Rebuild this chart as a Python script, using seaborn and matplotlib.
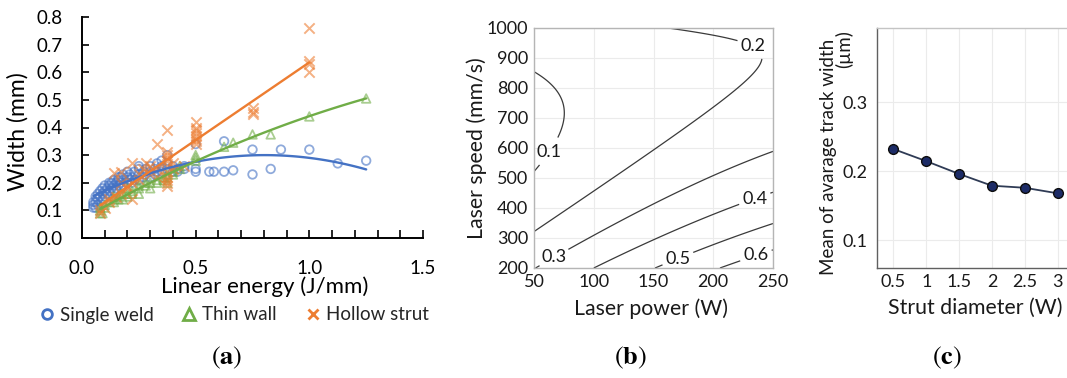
import numpy as np
import pandas as pd
import matplotlib
matplotlib.use("Agg")
import matplotlib.pyplot as plt
from matplotlib.lines import Line2D
from matplotlib.ticker import MultipleLocator, FixedLocator
import seaborn as sns

# ---------------- (a) track width vs linear energy ----------------
sw_energy = [0.05, 0.05, 0.05, 0.06, 0.06, 0.06, 0.07, 0.07, 0.07, 0.08, 0.08,
             0.09, 0.09, 0.09, 0.10, 0.10, 0.10, 0.11, 0.11, 0.12, 0.12, 0.12,
             0.13, 0.13, 0.14, 0.14, 0.14, 0.15, 0.15, 0.16, 0.16, 0.16,
             0.17, 0.17, 0.18, 0.18, 0.18, 0.20, 0.20, 0.20, 0.21, 0.21,
             0.22, 0.22, 0.23, 0.23, 0.25, 0.25, 0.25, 0.25, 0.27, 0.27,
             0.28, 0.28, 0.30, 0.30, 0.30, 0.32, 0.32, 0.33, 0.33,
             0.35, 0.35, 0.35, 0.375, 0.375, 0.375, 0.40, 0.40, 0.42, 0.42,
             0.45, 0.45, 0.50, 0.50, 0.50, 0.56, 0.58, 0.625, 0.625, 0.665,
             0.75, 0.75, 0.83, 0.875, 1.00, 1.125, 1.25]
sw_width = [0.11, 0.12, 0.13, 0.15, 0.13, 0.11, 0.16, 0.14, 0.12, 0.15, 0.17,
            0.16, 0.14, 0.18, 0.17, 0.19, 0.15, 0.18, 0.16, 0.19, 0.17, 0.20,
            0.18, 0.20, 0.19, 0.21, 0.17, 0.20, 0.18, 0.21, 0.19, 0.22,
            0.20, 0.22, 0.21, 0.19, 0.23, 0.22, 0.20, 0.24, 0.21, 0.23,
            0.22, 0.20, 0.24, 0.21, 0.25, 0.23, 0.21, 0.26, 0.22, 0.24,
            0.23, 0.25, 0.24, 0.26, 0.22, 0.25, 0.23, 0.27, 0.24,
            0.26, 0.24, 0.28, 0.30, 0.27, 0.25, 0.24, 0.26, 0.25, 0.24,
            0.26, 0.25, 0.34, 0.25, 0.24, 0.24, 0.24, 0.24, 0.35, 0.245,
            0.32, 0.23, 0.25, 0.32, 0.32, 0.27, 0.28]

tw_energy = [0.08, 0.08, 0.08, 0.09, 0.10, 0.10, 0.12, 0.14, 0.14, 0.14,
             0.16, 0.16, 0.17, 0.18, 0.18, 0.20, 0.20, 0.20, 0.22, 0.22,
             0.25, 0.25, 0.25, 0.28, 0.28, 0.30, 0.30, 0.33, 0.33, 0.36, 0.36,
             0.375, 0.375, 0.375, 0.40, 0.40, 0.43, 0.43, 0.50, 0.50, 0.50,
             0.625, 0.665, 0.75, 0.83, 1.00, 1.25]
tw_width = [0.09, 0.10, 0.11, 0.09, 0.12, 0.11, 0.13, 0.14, 0.15, 0.13,
            0.14, 0.15, 0.16, 0.14, 0.16, 0.16, 0.15, 0.18, 0.17, 0.16,
            0.16, 0.18, 0.19, 0.19, 0.20, 0.18, 0.20, 0.21, 0.20, 0.21, 0.22,
            0.22, 0.23, 0.20, 0.24, 0.23, 0.25, 0.26, 0.29, 0.28, 0.30,
            0.33, 0.345, 0.375, 0.375, 0.44, 0.505]

hs_energy = [0.08, 0.08, 0.10, 0.12, 0.12, 0.14, 0.15, 0.17, 0.17, 0.17,
             0.20, 0.20, 0.22, 0.22, 0.22, 0.25, 0.25, 0.27, 0.28, 0.30, 0.30,
             0.33, 0.33, 0.33, 0.375, 0.375, 0.375, 0.375, 0.375, 0.375,
             0.375, 0.375, 0.375, 0.375, 0.375, 0.40, 0.40, 0.45,
             0.50, 0.50, 0.50, 0.50, 0.50, 0.50, 0.50, 0.50,
             0.75, 0.75, 0.75, 1.00, 1.00, 1.00, 1.00]
hs_width = [0.10, 0.09, 0.11, 0.13, 0.14, 0.235, 0.15, 0.16, 0.20, 0.24,
            0.18, 0.19, 0.20, 0.27, 0.14, 0.21, 0.23, 0.25, 0.27, 0.23, 0.26,
            0.25, 0.22, 0.34, 0.21, 0.22, 0.24, 0.26, 0.28, 0.29,
            0.30, 0.31, 0.39, 0.19, 0.20, 0.25, 0.27, 0.26,
            0.42, 0.40, 0.39, 0.38, 0.37, 0.36, 0.35, 0.34,
            0.47, 0.455, 0.45, 0.76, 0.64, 0.63, 0.60]

energy_ticks = [0.0, 0.5, 1.0, 1.5]
width_ticks = [0.0, 0.1, 0.2, 0.3, 0.4, 0.5, 0.6, 0.7, 0.8]

# ---------------- (b) response surface of track width ----------------
# width = b0 + b1*p + b2*s + b3*p^2 + b4*s^2 + b5*p*s,
# with p = (power - 150)/100 and s = (speed - 600)/400
surface_coef = [0.1975, 0.106, -0.150, -0.0102, 0.150, -0.084]
contour_levels = [0.1, 0.2, 0.3, 0.4, 0.5, 0.6]
power_ticks = [50, 100, 150, 200, 250]
speed_ticks = [200, 300, 400, 500, 600, 700, 800, 900, 1000]
label_spots = [(62, 590), (236, 960), (66, 240), (233, 450), (170, 235), (235, 250)]

# ---------------- (c) mean track width vs strut diameter ----------------
strut_diameter = [0.5, 1.0, 1.5, 2.0, 2.5, 3.0]
mean_track_width = [0.232, 0.2145, 0.196, 0.179, 0.176, 0.168]
strut_tick_labels = ["0.5", "1", "1.5", "2", "2.5", "3"]
track_ticks = [0.1, 0.2, 0.3]

BLUE, GREEN, ORANGE = "#4472C4", "#70AD47", "#ED7D31"

sns.set_theme(style="white")
plt.rcParams["font.family"] = ["Lato", "DejaVu Sans"]
plt.rcParams["mathtext.fontset"] = "stix"

W, H = 1067, 378
fig = plt.figure(figsize=(W / 100, H / 100), dpi=100)


def px_axes(left, top, right, bottom):
    return fig.add_axes([left / W, 1 - bottom / H, (right - left) / W, (bottom - top) / H])


# ---------- panel (a) ----------
ax_a = px_axes(82, 17, 423, 238)
series = [
    (sw_energy, sw_width, BLUE, "o", 2),
    (tw_energy, tw_width, GREEN, "^", 2),
    (hs_energy, hs_width, ORANGE, "x", 1),
]
for xs, ys, col, mk, order in series:
    df = pd.DataFrame({"energy": xs, "width": ys})
    if mk == "x":
        sns.scatterplot(data=df, x="energy", y="width", marker="x", s=55,
                        color=col, linewidth=1.4, alpha=0.6, ax=ax_a, zorder=2)
    else:
        sns.scatterplot(data=df, x="energy", y="width", marker=mk, s=38,
                        facecolor="none", edgecolor=col, linewidth=1.3,
                        alpha=0.6, ax=ax_a, zorder=2)
for xs, ys, col, mk, order in series:
    df = pd.DataFrame({"energy": xs, "width": ys})
    sns.regplot(data=df, x="energy", y="width", order=order, ci=None,
                scatter=False, ax=ax_a, line_kws=dict(color=col, lw=1.7, zorder=3))

ax_a.set_xlim(0, 1.5)
ax_a.set_ylim(0, 0.8)
ax_a.xaxis.set_major_locator(FixedLocator(energy_ticks))
ax_a.xaxis.set_minor_locator(MultipleLocator(0.1))
ax_a.set_xticklabels([f"{v:.1f}" for v in energy_ticks])
ax_a.yaxis.set_major_locator(FixedLocator(width_ticks))
ax_a.set_yticklabels([f"{v:.1f}" for v in width_ticks])
ax_a.tick_params(axis="x", which="both", direction="in", length=6, width=1.2,
                 pad=15.5, labelsize=13.5, colors="black", bottom=True)
ax_a.tick_params(axis="y", which="both", direction="in", length=5, width=1.2,
                 pad=14, labelsize=13.5, colors="black", left=True)
for side in ("top", "right"):
    ax_a.spines[side].set_visible(False)
for side in ("left", "bottom"):
    ax_a.spines[side].set_color("black")
    ax_a.spines[side].set_linewidth(1.4)
ax_a.set_xlabel("Linear energy (J/mm)", fontsize=16, color="black")
ax_a.set_ylabel("Width (mm)", fontsize=16.5, color="black")
ax_a.xaxis.set_label_coords(0.537, -0.172)
ax_a.yaxis.set_label_coords(-0.158, 0.48)

handles = [
    Line2D([], [], ls="none", marker="o", ms=7, mfc="none", mec=BLUE, mew=2),
    Line2D([], [], ls="none", marker="^", ms=8, mfc="none", mec=GREEN, mew=2),
    Line2D([], [], ls="none", marker="x", ms=7, color=ORANGE, mew=2),
]
fig.legend(handles, ["Single weld", "Thin wall", "Hollow strut"], loc="center",
           bbox_to_anchor=(234 / W, 1 - 315 / H), ncol=3, frameon=False,
           fontsize=13.5, handlelength=0.8, handletextpad=0.3, columnspacing=1.5)

# ---------- panel (b) ----------
ax_b = px_axes(534, 28, 773, 268)
power = np.linspace(50, 250, 400)
speed = np.linspace(200, 1000, 400)
PP, SS = np.meshgrid(power, speed)
p = (PP - 150) / 100
s = (SS - 600) / 400
b0, b1, b2, b3, b4, b5 = surface_coef
width_field = b0 + b1 * p + b2 * s + b3 * p ** 2 + b4 * s ** 2 + b5 * p * s
cs = ax_b.contour(PP, SS, width_field, levels=contour_levels, colors="#3a3a3a",
                  linewidths=0.9)
texts = ax_b.clabel(cs, fmt="%.1f", fontsize=13, inline=True, inline_spacing=4,
                    manual=label_spots, colors="#1a1a1a")
for t in texts:
    t.set_rotation(0)
ax_b.set_xlim(50, 250)
ax_b.set_ylim(200, 1000)
ax_b.set_xticks(power_ticks)
ax_b.set_yticks(speed_ticks)
ax_b.grid(True, color="#ebebeb", lw=0.8)
ax_b.tick_params(length=0, labelsize=13, colors="#1a1a1a", pad=4)
for sp in ax_b.spines.values():
    sp.set_color("#b5b5b5")
    sp.set_linewidth(1.0)
ax_b.set_xlabel("Laser power (W)", fontsize=15.3, color="#1a1a1a")
ax_b.set_ylabel("Laser speed (mm/s)", fontsize=15.3, color="#1a1a1a")
ax_b.xaxis.set_label_coords(0.49, -0.125)
ax_b.yaxis.set_label_coords(-0.195, 0.5)

# ---------- panel (c) ----------
ax_c = px_axes(877, 28, 1074, 268)
sns.lineplot(x=strut_diameter, y=mean_track_width, ax=ax_c, color="#2f3b55",
             lw=1.3, marker="o", markersize=7, markerfacecolor="#1c2b66",
             markeredgecolor="#0d0d0d", markeredgewidth=1.0)
ax_c.set_xlim(0.25, 3.25)
ax_c.set_ylim(0.06, 0.407)
ax_c.set_xticks(strut_diameter)
ax_c.set_xticklabels(strut_tick_labels)
ax_c.set_yticks(track_ticks)
ax_c.set_yticklabels([f"{v:.1f}" for v in track_ticks])
ax_c.grid(True, color="#ebebeb", lw=0.8)
ax_c.tick_params(axis="x", length=0, labelsize=13, colors="#1a1a1a", pad=4)
ax_c.tick_params(axis="y", length=0, labelsize=13, colors="#1a1a1a", pad=6.5)
for side, col in (("left", "#606060"), ("bottom", "#606060"),
                  ("top", "#c4c4c4"), ("right", "#c4c4c4")):
    ax_c.spines[side].set_color(col)
    ax_c.spines[side].set_linewidth(1.0)
ax_c.set_xlabel("Strut diameter (W)", fontsize=15.3, color="#1a1a1a")
ax_c.set_ylabel("Mean of avarage track width", fontsize=13.5, color="#1a1a1a")
ax_c.xaxis.set_label_coords(0.5, -0.125)
ax_c.yaxis.set_label_coords(-0.203, 0.465)
# unit line of the y label, flush with the top end of the first line
ax_c.text(-0.122, 0.992, "(µm)", transform=ax_c.transAxes, rotation=90,
          rotation_mode="anchor", ha="right", va="bottom", fontsize=13.5,
          color="#1a1a1a")

# ---------- panel captions ----------
for cx, tag in ((227, "a"), (630, "b"), (947, "c")):
    fig.text(cx / W, 1 - 358 / H, rf"$(\mathbf{{{tag}}})$", ha="center",
             va="center", fontsize=19, color="black")

fig.savefig("out.png", dpi=100)
